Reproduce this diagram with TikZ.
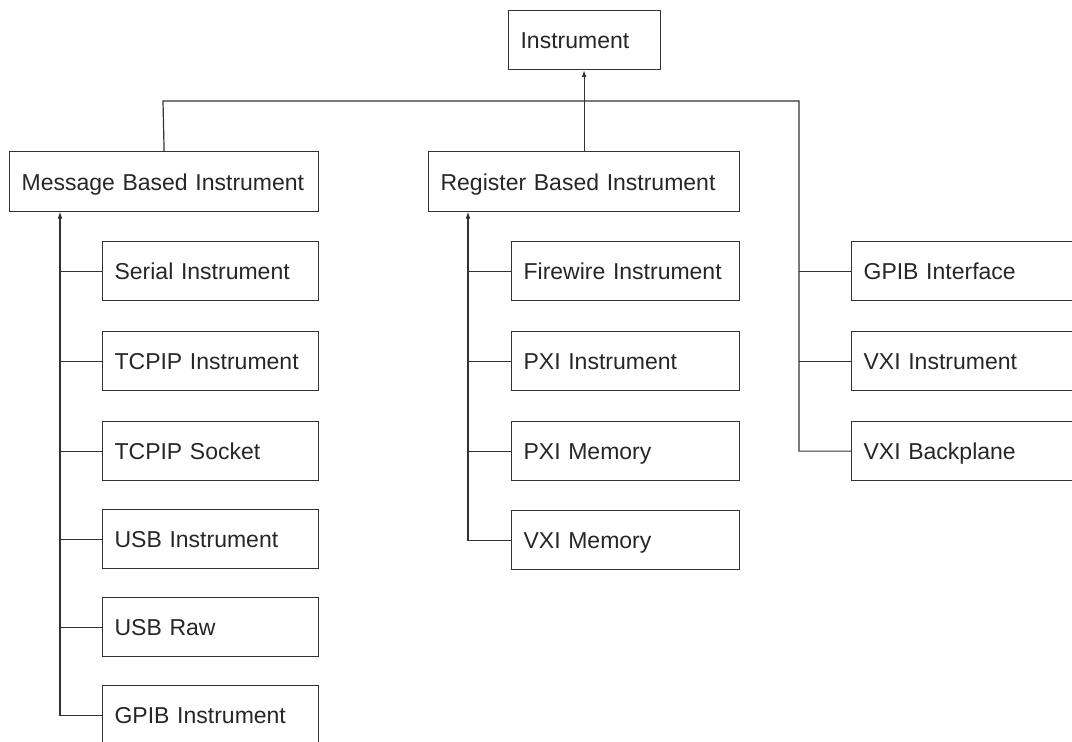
\documentclass[tikz,border=0pt]{standalone}
\usepackage{fontspec}
\setmainfont{Liberation Sans}
\usetikzlibrary{arrows.meta}
\begin{document}
\begin{tikzpicture}[x=1pt,y=-1pt,
  box/.style={draw=black!80, line width=1.2pt, anchor=north west, minimum height=59pt,
    inner xsep=12pt, align=left, font=\fontsize{23}{27}\selectfont, text=black!85,
    text height=19pt, text depth=2pt},
  conn/.style={draw=black!80, line width=1.2pt},
  arr/.style={conn, -{Latex[length=7pt,width=5pt]}}]
\useasboundingbox (0,0) rectangle (1072,742);
\clip (0,0) rectangle (1072,742);
% top
\node[box, minimum width=152pt, text width=128pt] (inst) at (508,10) {Instrument};
\node[box, minimum width=309pt, minimum height=60pt, text width=285pt] (mbi) at (9,151) {Message Based Instrument};
\node[box, minimum width=311pt, minimum height=60pt, text width=287pt] (rbi) at (428,151) {Register Based Instrument};
% left column
\node[box, minimum width=216pt, text width=192pt] (ser) at (102,241) {Serial Instrument};
\node[box, minimum width=216pt, text width=192pt] (tcpi) at (102,331) {TCPIP Instrument};
\node[box, minimum width=216pt, text width=192pt] (tcps) at (102,421) {TCPIP Socket};
\node[box, minimum width=216pt, text width=192pt] (usbi) at (102,509) {USB Instrument};
\node[box, minimum width=216pt, text width=192pt] (usbr) at (102,597) {USB Raw};
\node[box, minimum width=216pt, text width=192pt] (gpibi) at (102,685) {GPIB Instrument};
% middle column
\node[box, minimum width=228pt, text width=204pt] (fw) at (511,241) {Firewire Instrument};
\node[box, minimum width=228pt, text width=204pt] (pxii) at (511,331) {PXI Instrument};
\node[box, minimum width=228pt, text width=204pt] (pxim) at (511,421) {PXI Memory};
\node[box, minimum width=228pt, text width=204pt] (vxim) at (511,510) {VXI Memory};
% right column
\node[box, minimum width=240pt, text width=216pt] (gpibif) at (851,241) {GPIB Interface};
\node[box, minimum width=240pt, text width=216pt] (vxii) at (851,331) {VXI Instrument};
\node[box, minimum width=240pt, text width=216pt] (vxibp) at (851,421) {VXI Backplane};
% coordinates
\coordinate (hl) at (163,101);
\coordinate (hr) at (799,101);
\coordinate (lt) at (60,211.6);
\coordinate (mt) at (468,211.6);
% top connectors
\draw[arr] (rbi.north) -- (rbi.north |- inst.south);
\draw[conn] (mbi.north) -- (hl) -- (hr) -- (hr |- vxibp.west) -- (vxibp.west);
\draw[conn] (gpibif.west) -- (gpibif.west -| hr);
\draw[conn] (vxii.west) -- (vxii.west -| hr);
% left trunk
\draw[arr] (gpibi.west) -- (gpibi.west -| lt) -- (lt);
\foreach \n in {ser,tcpi,tcps,usbi,usbr} \draw[conn] (\n.west) -- (\n.west -| lt);
% middle trunk
\draw[arr] (vxim.west) -- (vxim.west -| mt) -- (mt);
\foreach \n in {fw,pxii,pxim} \draw[conn] (\n.west) -- (\n.west -| mt);
\end{tikzpicture}
\end{document}
